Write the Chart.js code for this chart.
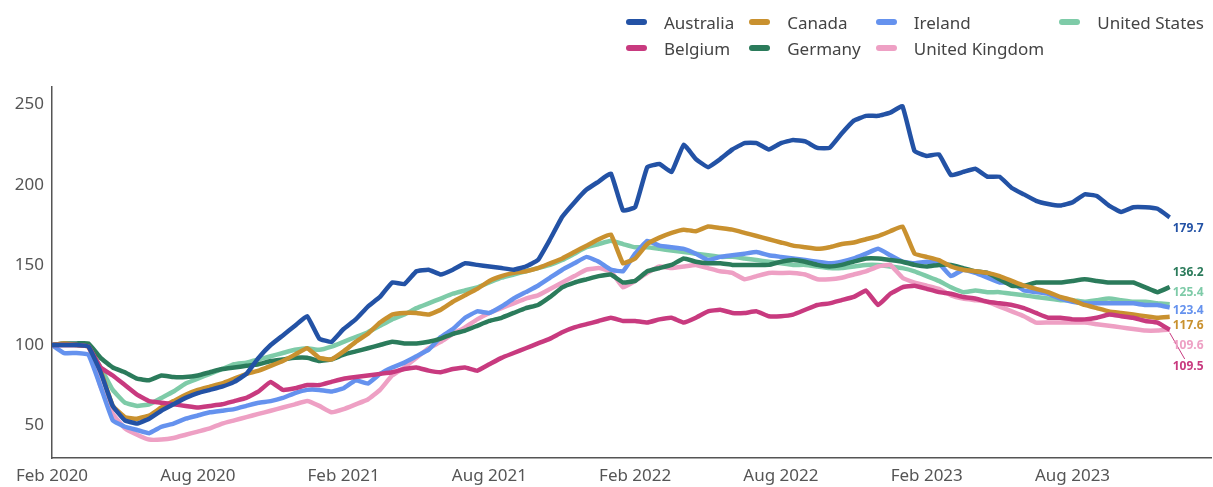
<!DOCTYPE html>
<html>
<head>
<meta charset="utf-8">
<script src="https://cdn.jsdelivr.net/npm/chart.js@4.4.0/dist/chart.umd.min.js"></script>
<style>
  html, body { margin: 0; padding: 0; background: #fff; }
  #wrap { position: relative; width: 1213px; height: 487px; }
  #legend {
    position: absolute; left: 626px; top: 9px;
    display: grid; grid-template-rows: 26px 26px; grid-auto-flow: column; column-gap: 15px;
    font-family: "Noto Sans"; font-size: 17px; color: #444;
  }
  .item { display: flex; align-items: center; white-space: nowrap; }
  .sw { width: 21px; height: 6px; border-radius: 3px; margin-right: 17px; }
</style>
</head>
<body>
<div id="wrap">
  <canvas id="chart"></canvas>
  <div id="legend"></div>
</div>
<script>
// months since Feb 2020, half-month steps up to Dec 2023
const months = Array.from({ length: 93 }, (_, i) => i / 2);

const tickMonths = [0, 6, 12, 18, 24, 30, 36, 42];
const tickLabels = ['Feb 2020', 'Aug 2020', 'Feb 2021', 'Aug 2021', 'Feb 2022', 'Aug 2022', 'Feb 2023', 'Aug 2023'];
const yTicks = [50, 100, 150, 200, 250];

const countries = ['Australia', 'Belgium', 'Canada', 'Germany', 'Ireland', 'United Kingdom', 'United States'];
const colors = ['#2352a5', '#c83a7f', '#c9912f', '#2b7b5b', '#6592ee', '#eea0c4', '#7ecba8'];

const australia = [
  100, 100, 100, 99, 83, 62, 53, 51, 54, 59,
  63, 67, 70, 72, 74, 77, 82, 92, 100, 106,
  112, 118, 104, 102, 110, 116, 124, 130, 139, 138,
  146, 147, 144, 147, 151, 150, 149, 148, 147, 149,
  153, 166, 180, 189, 197, 202, 207, 184, 186, 211,
  213, 208, 225, 216, 211, 216, 222, 226, 226, 222,
  226, 228, 227, 223, 223, 232, 240, 243, 243, 245,
  249, 221, 218, 219, 206, 208, 210, 205, 205, 198,
  194, 190, 188, 187, 189, 194, 193, 187, 183, 186,
  186, 185, 179.7
];
const belgium = [
  100, 100, 100, 99, 86, 81, 75, 69, 65, 64,
  63, 62, 61, 62, 63, 65, 67, 71, 77, 72,
  73, 75, 75, 77, 79, 80, 81, 82, 83, 85,
  86, 84, 83, 85, 86, 84, 88, 92, 95, 98,
  101, 104, 108, 111, 113, 115, 117, 115, 115, 114,
  116, 117, 114, 117, 121, 122, 120, 120, 121, 118,
  118, 119, 122, 125, 126, 128, 130, 134, 125, 132,
  136, 137, 135, 133, 132, 130, 129, 127, 126, 125,
  123, 120, 117, 117, 116, 116, 117, 119, 118, 117,
  115, 114, 109.5
];
const canada = [
  100, 101, 100, 99, 84, 62, 55, 54, 56, 61,
  65, 69, 72, 74, 76, 79, 82, 84, 87, 90,
  94, 98, 92, 91, 96, 102, 107, 114, 119, 120,
  120, 119, 122, 127, 131, 135, 140, 143, 145, 146,
  148, 151, 154, 158, 162, 166, 169, 151, 154, 163,
  167, 170, 172, 171, 174, 173, 172, 170, 168, 166,
  164, 162, 161, 160, 161, 163, 164, 166, 168, 171,
  174, 157, 155, 153, 149, 147, 146, 145, 143, 140,
  137, 135, 133, 130, 128, 125, 123, 121, 120, 119,
  118, 117, 117.6
];
const germany = [
  100, 101, 101, 101, 92, 86, 83, 79, 78, 81,
  80, 80, 81, 83, 85, 86, 87, 88, 90, 91,
  92, 92, 90, 91, 94, 96, 98, 100, 102, 101,
  101, 102, 104, 107, 109, 112, 115, 117, 120, 123,
  125, 130, 136, 139, 141, 143, 144, 139, 140, 146,
  148, 150, 154, 152, 151, 151, 150, 150, 150, 150,
  152, 153, 152, 150, 149, 150, 152, 154, 154, 153,
  152, 150, 149, 150, 150, 148, 146, 145, 141, 137,
  137, 139, 139, 139, 140, 141, 140, 139, 139, 139,
  136, 133, 136.2
];
const ireland = [
  100, 95, 95, 94, 74, 53, 49, 47, 45, 49,
  51, 54, 56, 58, 59, 60, 62, 64, 65, 67,
  70, 72, 72, 71, 73, 78, 76, 82, 86, 89,
  93, 97, 105, 110, 117, 121, 120, 124, 129, 133,
  137, 142, 147, 151, 155, 152, 147, 146, 157, 165,
  162, 161, 160, 157, 153, 155, 156, 157, 158, 156,
  155, 154, 153, 152, 151, 152, 154, 157, 160, 156,
  152, 151, 152, 151, 143, 147, 145, 142, 139, 139,
  134, 133, 132, 129, 127, 126, 126, 126, 126, 126,
  125, 125, 123.4
];
const unitedKingdom = [
  100, 100, 100, 99, 74, 57, 48, 44, 41, 41,
  42, 44, 46, 48, 51, 53, 55, 57, 59, 61,
  63, 65, 62, 58, 60, 63, 66, 72, 81, 86,
  92, 98, 102, 107, 111, 116, 120, 123, 126, 129,
  131, 135, 139, 143, 147, 148, 146, 136, 140, 145,
  149, 148, 149, 150, 148, 146, 145, 141, 143, 145,
  145, 145, 144, 141, 141, 142, 144, 146, 149, 150,
  142, 139, 137, 135, 131, 129, 128, 127, 124, 121,
  118, 114, 114, 114, 114, 114, 113, 112, 111, 110,
  109, 109, 109.6
];
const unitedStates = [
  100, 100, 100, 99, 86, 72, 64, 62, 63, 67,
  71, 76, 79, 82, 85, 88, 89, 91, 93, 95,
  97, 98, 97, 99, 102, 105, 108, 112, 116, 119,
  123, 126, 129, 132, 134, 136, 139, 142, 144, 146,
  148, 150, 153, 157, 161, 163, 165, 163, 161, 161,
  160, 159, 158, 157, 156, 155, 155, 154, 153, 152,
  151, 150, 150, 149, 148, 148, 149, 150, 150, 149,
  148, 146, 143, 140, 136, 133, 134, 133, 133, 132,
  131, 130, 129, 128, 128, 127, 128, 129, 128, 127,
  127, 126, 125.4
];

const seriesValues = [australia, belgium, canada, germany, ireland, unitedKingdom, unitedStates];

// where the end-of-line value labels sit (y in data units), to avoid overlaps
const endLabelY = [172.5, 86.3, 111.9, 145, 121.3, 99.4, 132.5];

// html legend, column-major like the original
const legendEl = document.getElementById('legend');
countries.forEach((name, i) => {
  const d = document.createElement('div');
  d.className = 'item';
  d.innerHTML = '<span class="sw" style="background:' + colors[i] + '"></span>' + name;
  legendEl.appendChild(d);
});

const endLabels = {
  id: 'endLabels',
  afterDatasetsDraw(chart) {
    const { ctx, scales: { x, y } } = chart;
    ctx.save();
    ctx.font = 'bold 12px "Noto Sans"';
    ctx.textBaseline = 'middle';
    ctx.textAlign = 'left';
    chart.data.datasets.forEach((ds, i) => {
      const last = ds.data[ds.data.length - 1];
      const px = x.getPixelForValue(last.x);
      const ly = y.getPixelForValue(endLabelY[i]);
      ctx.fillStyle = colors[i];
      ctx.fillText(last.y.toFixed(1), px + 3, ly);
      if (countries[i] === 'Belgium') {
        ctx.strokeStyle = colors[i];
        ctx.lineWidth = 1;
        ctx.beginPath();
        ctx.moveTo(px, y.getPixelForValue(last.y) + 3);
        ctx.lineTo(px + 15, ly - 8);
        ctx.stroke();
      }
    });
    ctx.restore();
  }
};

Chart.defaults.font.family = '"Noto Sans"';
Chart.defaults.color = '#555';

new Chart(document.getElementById('chart'), {
  type: 'line',
  data: {
    datasets: countries.map((name, i) => ({
      label: name,
      data: months.map((m, j) => ({ x: m, y: seriesValues[i][j] })),
      borderColor: colors[i],
      backgroundColor: colors[i],
      borderWidth: 4.5,
      pointRadius: 0,
      tension: 0.1,
      fill: false
    }))
  },
  options: {
    responsive: true,
    maintainAspectRatio: false,
    animation: false,
    layout: { padding: { top: 87, right: 2, left: 0, bottom: 0 } },
    plugins: {
      legend: { display: false },
      tooltip: { enabled: false }
    },
    scales: {
      x: {
        type: 'linear',
        min: 0,
        max: 47.7,
        grid: { display: false, drawTicks: false },
        border: { display: true, color: '#555', width: 1.5 },
        afterBuildTicks: (s) => { s.ticks = tickMonths.map(v => ({ value: v })); },
        afterFit: (s) => { s.height = 29; },
        ticks: {
          autoSkip: false,
          maxRotation: 0,
          padding: 8,
          font: { size: 17 },
          callback: (v) => tickLabels[tickMonths.indexOf(v)]
        }
      },
      y: {
        min: 29.5,
        max: 261,
        grid: { display: false, drawTicks: false },
        border: { display: true, color: '#555', width: 1.5 },
        afterBuildTicks: (s) => { s.ticks = yTicks.map(v => ({ value: v })); },
        afterFit: (s) => { s.width = 52; },
        ticks: { padding: 8, font: { size: 17 } }
      }
    }
  },
  plugins: [endLabels]
});
</script>
</body>
</html>
